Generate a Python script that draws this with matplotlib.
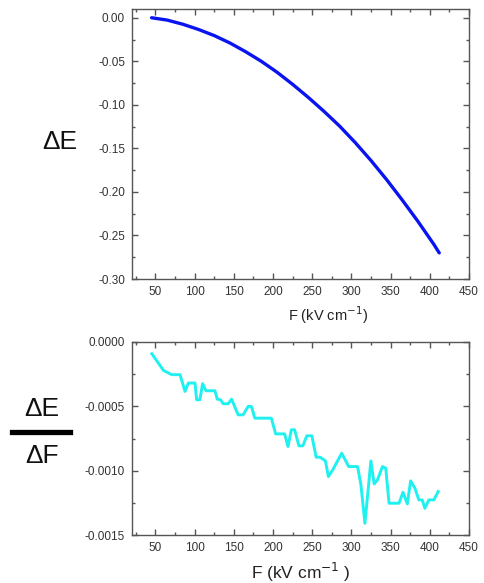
import numpy as np
import matplotlib
matplotlib.use("Agg")
import matplotlib.pyplot as plt
from matplotlib.ticker import MultipleLocator, FormatStrFormatter

plt.rcParams['font.family'] = ['Liberation Sans', 'DejaVu Sans']
plt.rcParams['axes.unicode_minus'] = False

# energy shift vs field
f_top = [45, 65, 85, 105, 125, 145, 165, 185, 205, 225, 245, 265, 285, 305, 325, 345,
         365, 385, 405, 412]
dE = [0.0, -0.0027, -0.0075, -0.0135, -0.0205, -0.0290, -0.0390, -0.0500, -0.0625,
      -0.0765, -0.0915, -0.1075, -0.1245, -0.1435, -0.1640, -0.1860, -0.2095,
      -0.2340, -0.2600, -0.2700]

# derivative dE/dF
f_bot = [45.3, 60.2, 70.7, 81.3, 87.7, 91.9, 100.4, 102.5, 106.7, 110.1, 114.4, 125.8,
         128.8, 133.0, 136.4, 142.8, 147.0, 155.5, 161.8, 168.2, 172.4, 176.7, 197.8,
         203.3, 214.8, 219.0, 223.3, 227.5, 233.0, 238.0, 243.1, 249.5, 255.0, 260.0,
         266.8, 270.6, 276.1, 287.6, 296.5, 307.8, 312.1, 317.2, 320.5, 324.8, 329.0,
         333.2, 339.6, 343.8, 348.0, 360.7, 365.8, 371.3, 375.5, 381.0, 386.0, 390.3,
         393.7, 398.8, 405.2, 410.7]
dEdF = [-0.000091, -0.000221, -0.000254, -0.000254, -0.000384, -0.000319, -0.000319,
        -0.000449, -0.000449, -0.000324, -0.000379, -0.000379, -0.000444, -0.000449,
        -0.000480, -0.000480, -0.000444, -0.000566, -0.000566, -0.000501, -0.000501,
        -0.000592, -0.000592, -0.000714, -0.000714, -0.000812, -0.000682, -0.000682,
        -0.000807, -0.000807, -0.000729, -0.000729, -0.000895, -0.000895, -0.000924,
        -0.001046, -0.000994, -0.000864, -0.000968, -0.000968, -0.001110, -0.001409,
        -0.001201, -0.000924, -0.001103, -0.001072, -0.000968, -0.000981, -0.001253,
        -0.001253, -0.001168, -0.001258, -0.001079, -0.001136, -0.001227, -0.001227,
        -0.001292, -0.001227, -0.001227, -0.001162]

fig = plt.figure(figsize=(4.84, 5.83), dpi=100)
ax1 = fig.add_axes([0.2727, 0.5214, 0.6963, 0.4631])
ax2 = fig.add_axes([0.2727, 0.0823, 0.6963, 0.3311])


def style(ax):
    for s in ax.spines.values():
        s.set_color('#555555')
        s.set_linewidth(1.0)
    ax.tick_params(which='both', direction='in', top=True, right=True,
                   colors='#555555', labelcolor='#333333', labelsize=8.5, pad=5)
    ax.tick_params(which='major', length=4, width=1)
    ax.tick_params(which='minor', length=2, width=1)
    ax.set_xlim(20, 450)
    ax.xaxis.set_major_locator(MultipleLocator(50))
    ax.xaxis.set_minor_locator(MultipleLocator(25))


ax1.plot(f_top, dE, color='#0a14f0', lw=2.4, solid_capstyle='round')
style(ax1)
ax1.set_ylim(-0.30, 0.01)
ax1.yaxis.set_major_locator(MultipleLocator(0.05))
ax1.yaxis.set_minor_locator(MultipleLocator(0.025))
ax1.yaxis.set_major_formatter(FormatStrFormatter('%.2f'))
ax1.set_xlabel('F (kV cm$^{-1}$)', fontsize=10.5, color='#222222')
ax1.xaxis.set_label_coords((328 - 132) / 337, -0.092)

ax2.plot(f_bot, dEdF, color='#1ff0f0', lw=2.1)
style(ax2)
ax2.set_ylim(-0.0015, 0.0)
ax2.yaxis.set_major_locator(MultipleLocator(0.0005))
ax2.yaxis.set_minor_locator(MultipleLocator(0.00025))
ax2.yaxis.set_major_formatter(FormatStrFormatter('%.4f'))
ax2.set_xlabel('F (kV cm$^{-1}$ )', fontsize=12.5, color='#222222', labelpad=5)

# left-hand labels
fig.text(60 / 484, 1 - 142 / 583, '\u0394E', fontsize=19, ha='center', va='center',
         color='#111111')
fig.text(42 / 484, 1 - 409 / 583, '\u0394E', fontsize=19, ha='center', va='center',
         color='#111111')
fig.text(42 / 484, 1 - 456 / 583, '\u0394F', fontsize=19, ha='center', va='center',
         color='#111111')
fig.add_artist(plt.Line2D([12 / 484, 70 / 484], [1 - 432 / 583, 1 - 432 / 583],
                          color='black', lw=3.8, transform=fig.transFigure))

fig.savefig('out.png', dpi=100)
